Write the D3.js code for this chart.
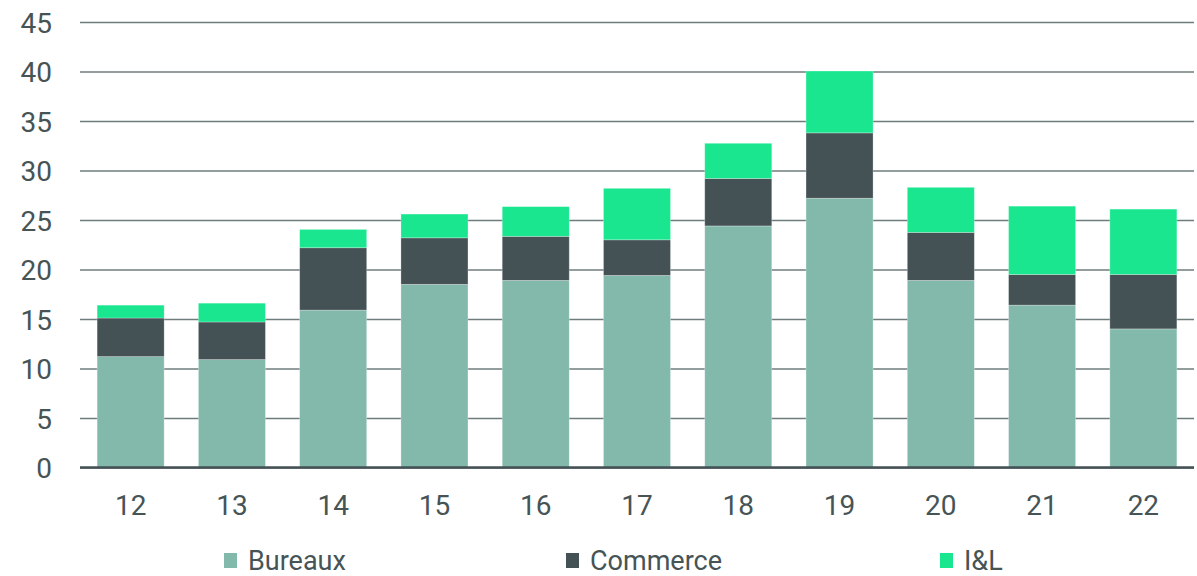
<!DOCTYPE html>
<html>
<head>
<meta charset="utf-8">
<script src="https://cdn.jsdelivr.net/npm/d3@7"></script>
<style>
  html, body { margin: 0; padding: 0; background: #fff; }
  svg text { font-family: Roboto, "Liberation Sans", sans-serif; fill: #465456; }
</style>
</head>
<body>
<svg id="chart" width="1197" height="576"></svg>
<script>
const categories = ["12","13","14","15","16","17","18","19","20","21","22"];
const seriesNames = ["Bureaux","Commerce","I&L"];
const bureaux  = [11.2, 10.9, 15.9, 18.5, 18.9, 19.4, 24.4, 27.2, 18.9, 16.4, 14.0];
const commerce = [3.9, 3.8, 6.3, 4.7, 4.45, 3.6, 4.8, 6.6, 4.85, 3.1, 5.5];
const il       = [1.3, 1.9, 1.85, 2.4, 3.0, 5.2, 3.55, 6.25, 4.55, 6.9, 6.6];
const yTicks = [0,5,10,15,20,25,30,35,40,45];
const colors = ["#82b9ab", "#445256", "#19e68f"];

const margin = {left: 80, right: 3, top: 22, bottom: 108.5};
const W = 1197, H = 576;
const svg = d3.select("#chart");

const x = d3.scaleBand().domain(categories).range([margin.left, W - margin.right]).paddingInner(0.338).paddingOuter(0.169);
const y = d3.scaleLinear().domain([0, 45]).range([H - margin.bottom, margin.top]);

const rows = categories.map((c, i) => ({cat: c, Bureaux: bureaux[i], Commerce: commerce[i], "I&L": il[i]}));
const stacked = d3.stack().keys(seriesNames)(rows);

// gridlines
const yAxis = d3.axisLeft(y).tickValues(yTicks).tickSize(-(W - margin.right - margin.left)).tickPadding(28).tickFormat(d3.format("d"));
const gy = svg.append("g").attr("transform", `translate(${margin.left},0)`).call(yAxis);
gy.select(".domain").remove();
gy.selectAll(".tick line").attr("stroke", "#6f7c7c").attr("stroke-width", 1.5);
gy.selectAll(".tick text").attr("font-size", 28).attr("fill", "#465456").attr("dy", "0.36em");

// bars
svg.append("g").selectAll("g").data(stacked).join("g")
  .attr("fill", (d, i) => colors[i])
  .selectAll("rect").data(d => d).join("rect")
  .attr("x", d => x(d.data.cat))
  .attr("width", x.bandwidth())
  .attr("y", d => y(d[1]))
  .attr("height", d => y(d[0]) - y(d[1]))
  .attr("stroke", "rgba(255,255,255,0.35)")
  .attr("stroke-width", 0.8);

// baseline
svg.append("line")
  .attr("x1", margin.left).attr("x2", W - margin.right)
  .attr("y1", y(0)).attr("y2", y(0))
  .attr("stroke", "#445256").attr("stroke-width", 2.5);

// x axis labels
const xAxis = d3.axisBottom(x).tickSize(0).tickPadding(28);
const gx = svg.append("g").attr("transform", `translate(0,${y(0)})`).call(xAxis);
gx.select(".domain").remove();
gx.selectAll(".tick text").attr("font-size", 28).attr("fill", "#465456");

// legend
const legendX = [224, 566, 940];
const lg = svg.append("g").selectAll("g").data(seriesNames).join("g")
  .attr("transform", (d, i) => `translate(${legendX[i]},553)`);
lg.append("rect").attr("width", 13).attr("height", 15).attr("fill", (d, i) => colors[i]);
lg.append("text").attr("x", 24).attr("y", 17).attr("font-size", 27).text(d => d);
</script>
</body>
</html>
